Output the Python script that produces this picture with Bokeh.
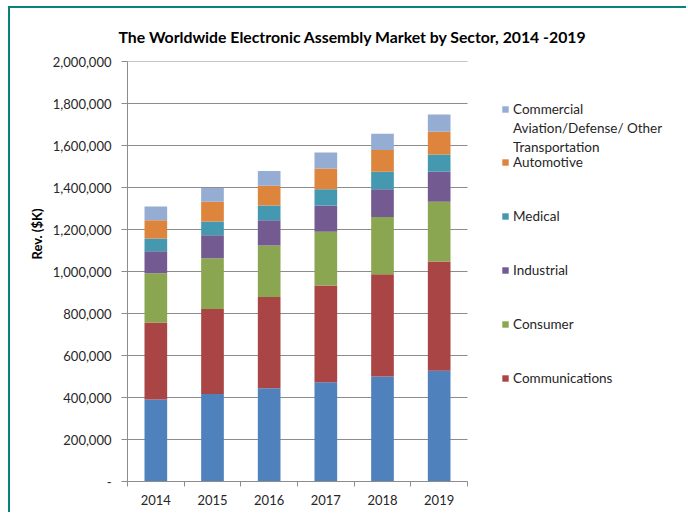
from bokeh.plotting import figure
from bokeh.models import (ColumnDataSource, Legend, LegendItem, Title,
                          CustomJSTickFormatter, FixedTicker, Range1d)
from bokeh.embed import file_html
from bokeh.resources import INLINE

# ---- data ----
years = ["2014", "2015", "2016", "2017", "2018", "2019"]
computer = [390000, 417000, 444000, 473000, 500000, 527000]
communications = [367000, 405000, 434000, 460000, 487000, 521000]
consumer = [235000, 241000, 246000, 256000, 273000, 284000]
industrial = [105000, 110000, 120000, 125000, 132000, 143000]
medical = [60000, 65000, 70000, 78000, 83000, 82000]
automotive = [87000, 94000, 94000, 98000, 103000, 108000]
commercial = [66000, 66000, 71000, 77000, 78000, 83000]

series_keys = ["computer", "communications", "consumer", "industrial",
               "medical", "automotive", "commercial"]
series_labels = [None, "Communications", "Consumer", "Industrial", "Medical",
                 "Automotive", "Commercial"]
commercial_label_more = ["Aviation/Defense/ Other", "Transportation"]
colors = ["#4F81BD", "#A94544", "#8BA651", "#735B91", "#4499B1", "#DE853D", "#95ACD3"]
y_ticks = [0, 200000, 400000, 600000, 800000, 1000000, 1200000, 1400000,
           1600000, 1800000, 2000000]

title_text = "The Worldwide Electronic Assembly Market by Sector, 2014 -2019"
y_label = "Rev. ($K)"

n = len(years)
xi = list(range(n))
source = ColumnDataSource(dict(xi=xi, computer=computer,
                               communications=communications, consumer=consumer,
                               industrial=industrial, medical=medical,
                               automotive=automotive, commercial=commercial))

FONT = "Lato"
TXT = "#262626"
GRID = "#8C8C8C"

# frame spans the plot area plus the legend area on its right
p = figure(x_range=Range1d(-0.5, 9.4), y_range=Range1d(0, 2000000),
           width=678, height=506, output_backend="svg", toolbar_location=None,
           min_border_left=117, min_border_right=0, min_border_top=53,
           min_border_bottom=33)
p.styles = {"margin-left": "8px", "margin-top": "6px",
            "border-left": "2px solid #0A8279", "border-top": "2px solid #0A8279"}
p.outline_line_color = None
p.xgrid.visible = False
p.ygrid.visible = False

# horizontal gridlines limited to the category span
p.segment(x0=[-0.5] * len(y_ticks), x1=[n - 0.5] * len(y_ticks),
          y0=y_ticks, y1=y_ticks, line_color=GRID, line_width=1)

renderers = p.vbar_stack(series_keys, x="xi", width=0.4, color=colors,
                         line_color=None, source=source)

# title (above) and y label (left)
p.title = Title(text=title_text, align="left", offset=-9, standoff=31,
                text_font=FONT, text_font_style="bold", text_font_size="15.8px",
                text_color="#000000")
p.add_layout(Title(text=y_label, align="left", offset=222, standoff=9,
                   text_font=FONT, text_font_style="bold", text_font_size="13px",
                   text_color="#000000"), "left")

# axes
p.yaxis.ticker = FixedTicker(ticks=y_ticks)
p.yaxis.formatter = CustomJSTickFormatter(
    code="return tick == 0 ? '-' : tick.toLocaleString('en-US');")
p.xaxis.ticker = FixedTicker(ticks=xi, minor_ticks=[i - 0.5 for i in range(n + 1)])
p.xaxis.major_label_overrides = {i: y for i, y in zip(xi, years)}
p.xaxis.bounds = (-0.5, n - 0.5)
for ax in (p.xaxis[0], p.yaxis[0]):
    ax.axis_line_color = GRID
    ax.major_tick_line_color = GRID
    ax.major_label_text_font = FONT
    ax.major_label_text_font_size = "13px"
    ax.major_label_text_color = TXT
p.yaxis.minor_tick_line_color = None
p.yaxis.major_tick_in = 0
p.yaxis.major_tick_out = 6
p.yaxis.major_label_standoff = 10
p.xaxis.major_tick_line_color = None
p.xaxis.minor_tick_line_color = GRID
p.xaxis.minor_tick_in = 0
p.xaxis.minor_tick_out = 5
p.xaxis.major_label_standoff = 7

# legends (blue series has no entry)
blank = p.vbar(x=[], top=[], width=0.4, fill_alpha=0, line_alpha=0)
legend_style = dict(orientation="vertical", glyph_width=8, glyph_height=8,
                    label_standoff=4, padding=0, margin=0,
                    border_line_color=None, background_fill_alpha=0,
                    label_text_font=FONT, label_text_font_size="13.5px",
                    label_text_color=TXT)
items_top = [LegendItem(label=series_labels[-1], renderers=[renderers[-1]])]
items_top += [LegendItem(label=t, renderers=[blank]) for t in commercial_label_more]
p.add_layout(Legend(items=items_top, location=(374, 325), spacing=0,
                    label_height=19, **legend_style))

items_rest = []
for r, lab in reversed(list(zip(renderers[:-1], series_labels[:-1]))):
    if lab is not None:
        items_rest.append(LegendItem(label=lab, renderers=[r]))
p.add_layout(Legend(items=items_rest, location=(374, 93), spacing=34,
                    label_height=20, **legend_style))

open("out.html", "w").write(file_html(p, INLINE))
